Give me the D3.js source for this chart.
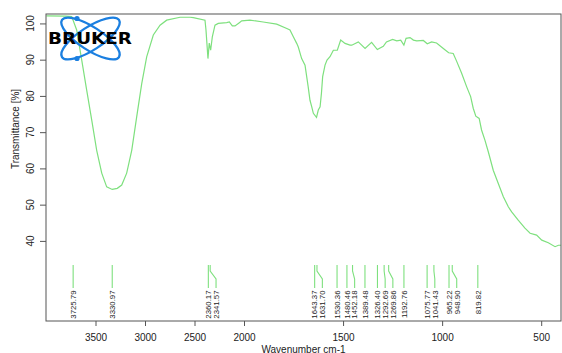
<!DOCTYPE html>
<html>
<head>
<meta charset="utf-8">
<script src="https://cdn.jsdelivr.net/npm/d3@7"></script>
<style>
  body { margin: 0; background: #fff; }
  svg { display: block; font-family: "Liberation Sans", Arial, sans-serif; }
</style>
</head>
<body>
<div id="chart"></div>
<script>
// spectrum (wavenumber cm-1 / transmittance %)
const wavenumbers = [3996, 3800, 3740, 3690, 3639, 3589, 3538, 3488, 3437, 3387, 3331, 3280, 3235, 3185, 3134, 3084, 3033, 2983, 2916, 2848, 2781, 2646, 2545, 2512, 2394, 2384, 2364, 2351, 2337, 2320, 2293, 2260, 2175, 2148, 2118, 2091, 2047, 2023, 1970, 1903, 1835, 1784, 1768, 1751, 1734, 1726, 1709, 1692, 1676, 1667, 1658, 1650, 1634, 1625, 1616, 1609, 1603, 1591, 1581, 1566, 1549, 1529, 1512, 1490, 1465, 1456, 1423, 1389, 1356, 1327, 1297, 1281, 1250, 1229, 1209, 1193, 1182, 1162, 1145, 1128, 1095, 1075, 1053, 1028, 994, 967, 944, 927, 902, 876, 856, 843, 830, 813, 801, 784, 767, 742, 717, 691, 666, 649, 616, 582, 556, 523, 497, 464, 430, 413, 400];
const transmittance = [102.1, 102.0, 101.9, 98.2, 89.9, 81.6, 73.3, 65.0, 58.7, 54.9, 54.2, 54.5, 55.4, 58.7, 65.0, 74.2, 83.4, 90.8, 96.8, 99.5, 100.9, 101.7, 101.7, 101.6, 100.9, 98.2, 90.3, 94.6, 92.6, 96.3, 99.5, 100.0, 100.2, 100.4, 99.3, 99.3, 100.2, 100.7, 100.9, 100.4, 99.8, 98.6, 98.2, 96.3, 94.5, 93.5, 90.3, 88.5, 82.5, 78.8, 77.0, 75.2, 74.1, 76.1, 77.0, 80.8, 85.3, 88.5, 89.9, 90.8, 92.6, 92.6, 95.4, 94.5, 94.0, 94.0, 94.9, 93.1, 94.8, 92.8, 93.7, 94.9, 95.6, 95.2, 95.4, 94.0, 95.9, 96.1, 95.4, 95.2, 95.3, 94.4, 94.9, 94.6, 93.1, 91.9, 91.7, 89.6, 86.3, 82.5, 79.8, 76.6, 74.4, 73.8, 70.6, 67.8, 64.6, 59.5, 55.9, 52.2, 49.4, 48.0, 45.7, 43.5, 42.1, 41.6, 40.2, 39.5, 38.4, 38.8, 38.8];

// picked peaks
const peaks = [3725.79, 3330.97, 2360.17, 2341.57, 1643.37, 1631.70, 1530.36, 1480.46, 1452.18, 1389.48, 1326.40, 1292.69, 1269.86, 1192.76, 1075.77, 1041.43, 965.22, 948.90, 819.82];

// tick labels
const xTicks = [3500, 3000, 2500, 2000, 1500, 1000, 500];
const yTicks = [40, 50, 60, 70, 80, 90, 100];

const w = 562, h = 353;
const plotLeft = 46, plotRight = 561, plotTop = 14, plotBottom = 321;
const green = "#7ee07e";
const axisColor = "#555";

let svg = d3.select("#chart")
            .append("svg")
            .attr("width", w)
            .attr("height", h);

// x scale is compressed above 2000 cm-1
let xScale = d3.scaleLinear()
                .domain([4000, 2000, 400])
                .range([plotLeft, 244, plotRight]);

let yScale = d3.scaleLinear()
                .domain([17.9, 102.6])
                .range([plotBottom, plotTop]);

// spectrum line
let line = d3.line()
             .x(d => xScale(d[0]))
             .y(d => yScale(d[1]));

svg.append("path")
    .datum(wavenumbers.map((v, i) => [v, transmittance[i]]))
    .attr("d", line)
    .attr("fill", "none")
    .attr("stroke", green)
    .attr("stroke-width", 1.2);

// frame
svg.append("rect")
    .attr("x", plotLeft)
    .attr("y", plotTop)
    .attr("width", plotRight - plotLeft)
    .attr("height", plotBottom - plotTop)
    .attr("fill", "none")
    .attr("stroke", axisColor)
    .attr("stroke-width", 1);

// bottom axis
let xAxis = d3.axisBottom(xScale)
              .tickValues(xTicks)
              .tickSize(5)
              .tickFormat(d3.format("d"));

let gx = svg.append("g")
            .attr("transform", `translate(0, ${plotBottom})`)
            .call(xAxis);
gx.select(".domain").remove();
gx.selectAll("line").attr("stroke", axisColor);
gx.selectAll("text")
  .attr("y", 0)
  .attr("dy", "19.5px")
  .attr("font-size", "10px")
  .attr("font-family", "Liberation Sans, Arial, sans-serif")
  .attr("fill", "#222");

// left axis, labels turned like R's default
let yAxis = d3.axisLeft(yScale)
              .tickValues(yTicks)
              .tickSize(6)
              .tickFormat(d3.format("d"));

let gy = svg.append("g")
            .attr("transform", `translate(${plotLeft}, 0)`)
            .call(yAxis);
gy.select(".domain").remove();
gy.selectAll("line").attr("stroke", axisColor);
gy.selectAll("text").remove();

svg.append("g")
    .selectAll("text")
    .data(yTicks)
    .enter()
    .append("text")
    .attr("transform", d => `translate(34, ${yScale(d)}) rotate(-90)`)
    .attr("text-anchor", "middle")
    .attr("font-size", "10px")
    .attr("fill", "#222")
    .text(d => d);

// axis titles
svg.append("text")
    .attr("transform", "translate(19, 129) rotate(-90)")
    .attr("text-anchor", "middle")
    .attr("font-size", "10px")
    .attr("fill", "#222")
    .text("Transmittance [%]");

svg.append("text")
    .attr("x", (plotLeft + plotRight) / 2)
    .attr("y", 352.5)
    .attr("text-anchor", "middle")
    .attr("font-size", "10px")
    .attr("fill", "#222")
    .text("Wavenumber cm-1");

// peak markers: push labels right when they would overlap
let gap = 7.7;
let prev = -Infinity;
let marks = peaks.map(p => {
    let px = xScale(p);
    let lx = Math.max(px, prev + gap);
    prev = lx;
    return { value: p, px: px, lx: lx };
});

let mark = svg.append("g")
              .selectAll("g")
              .data(marks)
              .enter()
              .append("g");

mark.append("path")
    .attr("d", d => `M${d.px},265 L${d.px},271 L${d.lx},279 L${d.lx},288`)
    .attr("fill", "none")
    .attr("stroke", green)
    .attr("stroke-width", 1.1);

mark.append("text")
    .attr("transform", d => `translate(${d.lx + 2.8}, 290.5) rotate(-90)`)
    .attr("text-anchor", "end")
    .attr("font-size", "7.8px")
    .attr("fill", "#222")
    .text(d => d3.format(".2f")(d.value));

// Bruker logo
let logo = svg.append("g");
[33, -33].forEach(a => {
    logo.append("ellipse")
        .attr("cx", 90.5)
        .attr("cy", 38.5)
        .attr("rx", 34)
        .attr("ry", 11.5)
        .attr("transform", `rotate(${a}, 90.5, 38.5)`)
        .attr("fill", "none")
        .attr("stroke", "#1b7fe0")
        .attr("stroke-width", 2.3);
});
[18.5, 58.5].forEach(cy => {
    logo.append("circle")
        .attr("cx", 77)
        .attr("cy", cy)
        .attr("r", 2.6)
        .attr("fill", "#1b7fe0");
});
logo.append("text")
    .attr("x", 48)
    .attr("y", 43.5)
    .attr("font-family", "DejaVu Sans, sans-serif")
    .attr("font-weight", "bold")
    .attr("font-size", "15px")
    .attr("textLength", 84)
    .attr("lengthAdjust", "spacingAndGlyphs")
    .attr("fill", "#000")
    .text("BRUKER");
</script>
</body>
</html>
